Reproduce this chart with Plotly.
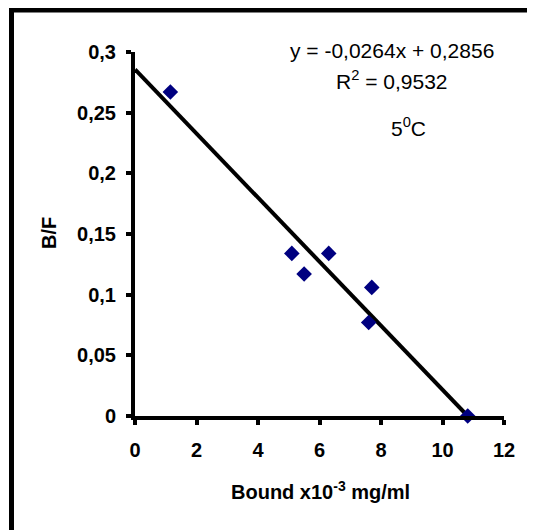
import plotly.graph_objects as go

# Data
bound = [1.15, 5.1, 5.5, 6.3, 7.7, 7.6, 10.82]
bf = [0.267, 0.134, 0.117, 0.134, 0.106, 0.077, 0.0]

slope = -0.0264
intercept = 0.2856
fit_x = [0, -intercept / slope]
fit_y = [slope * x + intercept for x in fit_x]

x_ticks = [0, 2, 4, 6, 8, 10, 12]
x_ticktext = ["0", "2", "4", "6", "8", "10", "12"]
y_ticks = [0, 0.05, 0.1, 0.15, 0.2, 0.25, 0.3]
y_ticktext = ["0", "0,05", "0,1", "0,15", "0,2", "0,25", "0,3"]

FONT = "Liberation Sans, Arial, sans-serif"

# plot area in screenshot pixels (page has an 8px body margin)
PL, PR, PT, PB = 135, 504, 52, 416


def px(xp):
    return (xp - PL) / (PR - PL)


def py(yp):
    return (PB - yp) / (PB - PT)


fig = go.Figure()
fig.add_trace(go.Scatter(
    x=fit_x, y=fit_y, mode="lines",
    line=dict(color="black", width=4), showlegend=False, hoverinfo="skip"))
fig.add_trace(go.Scatter(
    x=bound, y=bf, mode="markers", cliponaxis=False,
    marker=dict(symbol="diamond", size=12, color="#000080"),
    showlegend=False))

axis_common = dict(
    showgrid=False, zeroline=False, showline=True, linecolor="black", linewidth=4,
    ticks="outside", ticklen=5, tickwidth=4, tickcolor="black",
    tickfont=dict(family=FONT, size=20, color="black", weight="bold"),
)

fig.update_xaxes(range=[0, 12], tickvals=x_ticks, ticktext=x_ticktext,
                 ticklabelstandoff=8, **axis_common)
fig.update_yaxes(range=[0, 0.3], tickvals=y_ticks, ticktext=y_ticktext,
                 ticklabelstandoff=6, **axis_common)

reg = dict(family=FONT, size=21, color="black")
ann_common = dict(xref="paper", yref="paper", showarrow=False,
                  xanchor="center", yanchor="middle")
annotations = [
    dict(text="y = -0,0264x + 0,2856", x=px(392), y=py(50), font=reg, **ann_common),
    dict(text="R<sup>2</sup> = 0,9532", x=px(392), y=py(80), font=reg, **ann_common),
    dict(text="5<sup>0</sup>C", x=px(408), y=py(127), font=reg, **ann_common),
    dict(text="Bound x10<sup>-3</sup> mg/ml", x=px(320), y=py(490),
         font=dict(family=FONT, size=20, color="black", weight="bold"), **ann_common),
    dict(text="B/F", x=px(49), y=py(233), textangle=-90,
         font=dict(family=FONT, size=20, color="black", weight="bold"), **ann_common),
]

shapes = [
    dict(type="line", xref="paper", yref="paper",
         x0=px(11.5), x1=px(11.5), y0=py(8), y1=py(560),
         line=dict(color="black", width=5)),
    dict(type="line", xref="paper", yref="paper",
         x0=px(9), x1=px(560), y0=py(10), y1=py(10),
         line=dict(color="black", width=5)),
]

fig.update_layout(
    width=535, height=530,
    margin=dict(l=PL - 8, r=535 - (PR - 8), t=PT - 8, b=530 - (PB - 8)),
    plot_bgcolor="white", paper_bgcolor="white",
    annotations=annotations, shapes=shapes,
    separators=", ",
)

fig.write_html("out.html")
